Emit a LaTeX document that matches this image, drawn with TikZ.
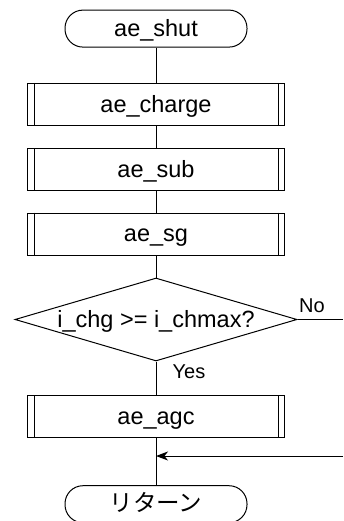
\documentclass[tikz,border=0pt]{standalone}
\usepackage{fontspec}
\setmainfont{Liberation Sans}
\newfontfamily\jpfont{Noto Sans CJK JP}
\usetikzlibrary{shapes.geometric,arrows.meta}
\tikzset{
  base/.style={draw, line width=1pt, inner sep=0pt, text height=15.5pt, text depth=0pt,
    font=\fontsize{23.5}{27}\selectfont},
  term/.style={base, rectangle, rounded corners=18pt, minimum width=182pt, minimum height=37pt},
  subr/.style={base, rectangle, minimum width=257pt, minimum height=42pt},
  decis/.style={base, diamond, aspect=3.4, minimum width=282pt, minimum height=83pt},
  lbl/.style={inner sep=0pt, font=\fontsize{20}{24}\selectfont},
  conn/.style={line width=1pt},
}
\begin{document}
\begin{tikzpicture}[x=1pt,y=-1pt]
\useasboundingbox (0,0) rectangle (343,521);
\node[term] (shut) at (156,28.6) {ae\_shut};
\node[subr] (charge) at (156,104.5) {ae\_charge};
\node[subr] (sub) at (156,170) {ae\_sub};
\node[subr] (sg) at (156,234) {ae\_sg};
\node[decis] (dec) at (156,319.5) {i\_chg >= i\_chmax?};
\node[subr] (agc) at (156,416.5) {ae\_agc};
\node[term] (ret) at (156,504.2) {\jpfont リターン};
\foreach \n in {charge,sub,sg,agc}{
  \draw[conn] ([xshift=7pt]\n.north west) -- ([xshift=7pt]\n.south west);
  \draw[conn] ([xshift=-7pt]\n.north east) -- ([xshift=-7pt]\n.south east);
}
\node[lbl] (no) at (312,305.5) {No};
\node[lbl] (yes) at (189,372) {Yes};
\coordinate (noend) at (343,319.5);
\coordinate (back) at (343,456);
\coordinate (join) at (156,456);
\draw[conn] (shut) -- (charge);
\draw[conn] (charge) -- (sub);
\draw[conn] (sub) -- (sg);
\draw[conn] (sg) -- (dec);
\draw[conn] (dec) -- (agc);
\draw[conn] (agc) -- (ret);
\draw[conn] (dec.east) -- (noend);
\draw[conn, -{Stealth[length=12pt,width=9pt,inset=3.5pt]}] (back) -- (join);
\end{tikzpicture}
\end{document}
